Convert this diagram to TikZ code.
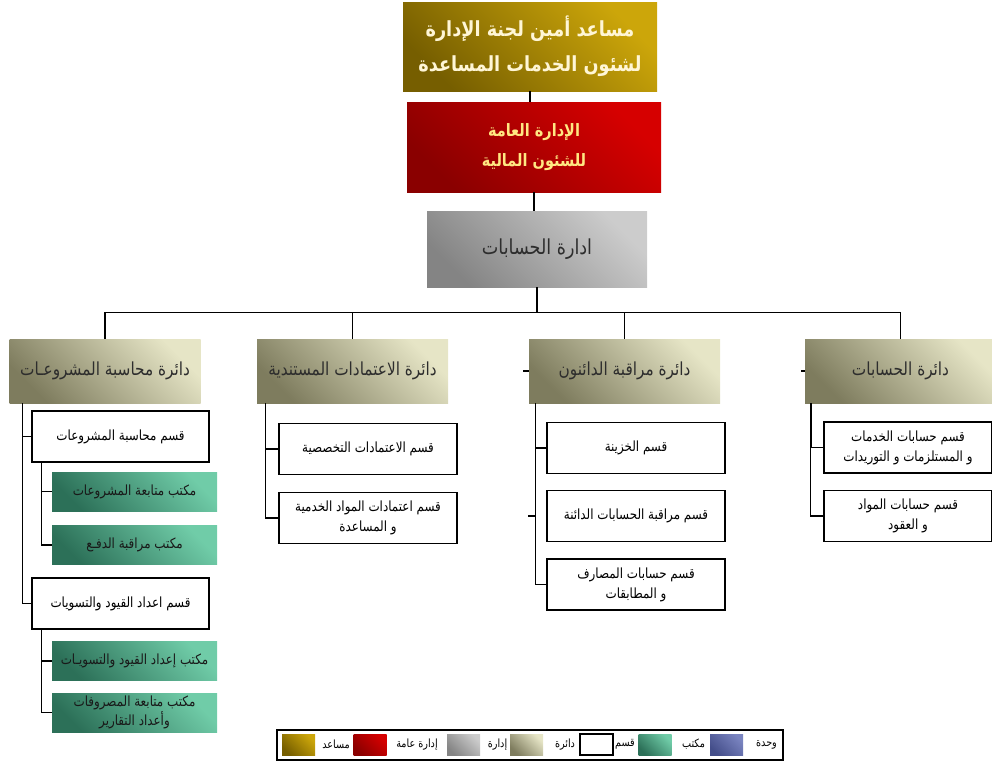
\documentclass[tikz,border=0pt]{standalone}
\usepackage{fontspec}
\usepackage{xcolor}
\usepackage{tikz}
\usetikzlibrary{calc,positioning}
\TeXXeTstate=1
\newfontfamily\arabicfont[Script=Arabic,FakeStretch=0.85]{DejaVu Sans}
\newcommand{\rtl}[1]{\beginR #1\endR}
\newcommand{\pxl}{0.75pt}
\definecolor{GoldLight}{RGB}{204,166,10}
\definecolor{GoldDark}{RGB}{118,94,0}
\definecolor{RedLight}{RGB}{214,0,0}
\definecolor{RedDark}{RGB}{138,0,0}
\definecolor{GreyLight}{RGB}{204,204,204}
\definecolor{GreyDark}{RGB}{132,132,132}
\definecolor{BeigeLight}{RGB}{230,229,198}
\definecolor{BeigeDark}{RGB}{126,124,94}
\definecolor{TealLight}{RGB}{112,204,168}
\definecolor{TealDark}{RGB}{44,112,88}
\definecolor{BlueLight}{RGB}{122,132,192}
\definecolor{BlueDark}{RGB}{68,78,138}
\definecolor{InkGrey}{RGB}{45,45,45}
\definecolor{CreamText}{RGB}{255,246,214}
\definecolor{YellowText}{RGB}{255,232,130}

\tikzset{
  box/.style={rectangle, inner sep=0pt, align=center},
  goldbox/.style={box, top color=GoldLight, bottom color=GoldDark, shading angle=-45,
    minimum width=254*\pxl, minimum height=89*\pxl, text=CreamText,
    font=\arabicfont\bfseries\fontsize{15.6}{26}\selectfont},
  redbox/.style={box, top color=RedLight, bottom color=RedDark, shading angle=-45,
    minimum width=254*\pxl, minimum height=90*\pxl, text=YellowText,
    font=\arabicfont\bfseries\fontsize{12.8}{22.5}\selectfont},
  greybox/.style={box, top color=GreyLight, bottom color=GreyDark, shading angle=-45,
    minimum width=220*\pxl, minimum height=76*\pxl, text=InkGrey,
    font=\arabicfont\fontsize{15.5}{18}\selectfont},
  deptbox/.style={box, top color=BeigeLight, bottom color=BeigeDark, shading angle=-45,
    minimum width=191*\pxl, minimum height=64*\pxl, text=InkGrey,
    font=\arabicfont\fontsize{13.5}{16}\selectfont},
  secbox/.style={box, draw=black, line width=1pt, fill=white,
    minimum width=177*\pxl, minimum height=51*\pxl,
    font=\arabicfont\fontsize{10.5}{15}\selectfont},
  officebox/.style={box, top color=TealLight, bottom color=TealDark, shading angle=-45,
    minimum width=165*\pxl, minimum height=39*\pxl, text=black!90,
    font=\arabicfont\fontsize{10.5}{14}\selectfont},
  link/.style={draw=black, line width=1pt},
  swatch/.style={box, minimum width=33*\pxl, minimum height=21*\pxl},
  legtext/.style={inner sep=0pt, font=\arabicfont\fontsize{8.5}{9}\selectfont}
}

\begin{document}
\begin{tikzpicture}[x=0.75pt, y=-0.75pt]
    \useasboundingbox (0,0) rectangle (992,761);

    % Top of the chart
    \node[goldbox] (assist) at (530,46.5) {\rtl{مساعد أمين لجنة الإدارة}\\\rtl{لشئون الخدمات المساعدة}};
    \node[redbox] (genadmin) at (534,147) {\rtl{الإدارة العامة}\\\rtl{للشئون المالية}};
    \node[greybox] (accadmin) at (537,249) {\rtl{ادارة الحسابات}};

    \draw[link] (assist.south) -- (assist.south |- genadmin.north);
    \draw[link] (genadmin.south) -- (genadmin.south |- accadmin.north);
    \draw[link] (accadmin.south) -- ++(0,25) coordinate (bus);

    % Departments
    \node[deptbox] (dproj) at (105,371) {\rtl{دائرة محاسبة المشروعـات}};
    \node[deptbox] (dcred) at (352.5,371) {\rtl{دائرة الاعتمادات المستندية}};
    \node[deptbox] (dpay) at (624.5,371) {\rtl{دائرة مراقبة الدائنون}};
    \node[deptbox] (dacc) at (900.5,371) {\rtl{دائرة الحسابات}};

    \draw[link] (dproj.north) |- (bus) -| (dacc.north);
    \draw[link] (dcred.north) -- (dcred.north |- bus);
    \draw[link] (dpay.north) -- (dpay.north |- bus);
    \draw[link] (dpay.west) -- ++(-6,0);
    \draw[link] (dacc.west) -- ++(-4,0);

    % Projects accounting
    \node[secbox] (sproj) at (120.5,436.5) {\rtl{قسم محاسبة المشروعات}};
    \node[officebox] (ofollow) at (134.5,491.5) {\rtl{مكتب متابعة المشروعات}};
    \node[officebox] (opaym) at (134.5,545) {\rtl{مكتب مراقبة الدفـع}};
    \node[secbox] (sentry) at (120.5,603.5) {\rtl{قسم اعداد القيود والتسويات}};
    \node[officebox] (oentry) at (134.5,661) {\rtl{مكتب إعداد القيود والتسويـات}};
    \node[officebox] (oreport) at (134.5,712.5) {\rtl{مكتب متابعة المصروفات}\\\rtl{وأعداد التقارير}};

    \coordinate (cproj) at ($(dproj.south west)+(13,0)$);
    \draw[link] (cproj) |- (sproj.west);
    \draw[link] (cproj) |- (sentry.west);
    \coordinate (csproj) at ($(sproj.south west)+(10,0)$);
    \draw[link] (csproj) |- (ofollow.west);
    \draw[link] (csproj) |- (opaym.west);
    \coordinate (csentry) at ($(sentry.south west)+(10,0)$);
    \draw[link] (csentry) |- (oentry.west);
    \draw[link] (csentry) |- (oreport.west);

    % Documentary credits
    \node[secbox, minimum width=178*\pxl] (sspec) at (368,449) {\rtl{قسم الاعتمادات التخصصية}};
    \node[secbox, minimum width=178*\pxl] (sserv) at (368,518) {\rtl{قسم اعتمادات المواد الخدمية}\\\rtl{و المساعدة}};

    \coordinate (ccred) at ($(dcred.south west)+(9,0)$);
    \draw[link] (ccred) |- (sspec.west);
    \draw[link] (ccred) |- (sserv.west);

    % Creditors control
    \node[secbox, minimum width=178*\pxl] (streas) at (636,448) {\rtl{قسم الخزينة}};
    \node[secbox, minimum width=178*\pxl] (sctrl) at (636,516) {\rtl{قسم مراقبة الحسابات الدائنة}};
    \node[secbox, minimum width=178*\pxl] (sbank) at (636,584.5) {\rtl{قسم حسابات المصارف}\\\rtl{و المطابقات}};

    \coordinate (cpay) at ($(dpay.south west)+(7,0)$);
    \draw[link] (cpay) |- (streas.west);
    \draw[link] (cpay) |- (sbank.west);
    \draw[link] (cpay |- sctrl.west) -- ++(-8,0);

    % Accounts
    \node[secbox, minimum width=168*\pxl] (ssupp) at (908,447.5) {\rtl{قسم حسابات الخدمات}\\\rtl{و المستلزمات و التوريدات}};
    \node[secbox, minimum width=168*\pxl] (smat) at (908,516) {\rtl{قسم حسابات المواد}\\\rtl{و العقود}};

    \coordinate (cacc) at ($(dacc.south west)+(6,0)$);
    \draw[link, line width=1.8pt] (cacc) -- (cacc |- ssupp.west);
    \draw[link] (cacc |- ssupp.west) -- (ssupp.west);
    \draw[link] (cacc) |- (smat.west);

    % Legend
    \draw[line width=0.9pt] (277,730) rectangle (783,760);
    \node[swatch, top color=GoldLight, bottom color=GoldDark, shading angle=-45] (lgold) at (298.5,744.5) {};
    \node[legtext] (tgold) at (336,744.5) {\rtl{مساعد}};
    \node[swatch, top color=RedLight, bottom color=RedDark, shading angle=-45] (lred) at (370,744.5) {};
    \node[legtext] (tred) at (417,744.5) {\rtl{إدارة عامة}};
    \node[swatch, top color=GreyLight, bottom color=GreyDark, shading angle=-45] (lgrey) at (463.5,744.5) {};
    \node[legtext] (tgrey) at (497.5,744.5) {\rtl{إدارة}};
    \node[swatch, top color=BeigeLight, bottom color=BeigeDark, shading angle=-45] (lbeige) at (526.5,744.5) {};
    \node[legtext] (tbeige) at (565,744.5) {\rtl{دائرة}};
    \node[swatch, draw=black, line width=0.8pt, fill=white] (lwhite) at (596.5,744.5) {};
    \node[legtext] (twhite) at (625,744.5) {\rtl{قسم}};
    \node[swatch, top color=TealLight, bottom color=TealDark, shading angle=-45] (lteal) at (655,744.5) {};
    \node[legtext] (tteal) at (693.5,744.5) {\rtl{مكتب}};
    \node[swatch, top color=BlueLight, bottom color=BlueDark, shading angle=-45] (lblue) at (726.5,744.5) {};
    \node[legtext] (tblue) at (766.5,744.5) {\rtl{وحدة}};
\end{tikzpicture}
\end{document}
